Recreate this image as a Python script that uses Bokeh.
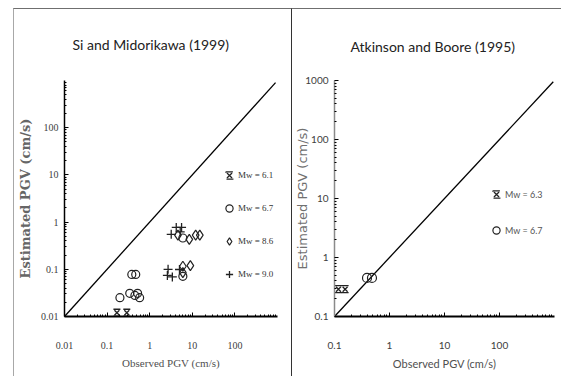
from bokeh.plotting import figure
from bokeh.layouts import row
from bokeh.models import Range1d, FixedTicker, CustomJSTickFormatter, Legend, LegendItem
from bokeh.embed import file_html
from bokeh.resources import INLINE

# ---------------- data ----------------
# Left panel: Si and Midorikawa (1999)
sm_mw61_obs = [0.17, 0.29]
sm_mw61_est = [0.012, 0.012]
sm_mw67_obs = [0.20, 0.38, 0.47, 0.34, 0.45, 0.52, 0.58, 6.0, 6.0]
sm_mw67_est = [0.025, 0.078, 0.078, 0.031, 0.028, 0.031, 0.025, 0.46, 0.071]
sm_mw86_obs = [4.6, 8.5, 12.0, 15.0, 6.0, 9.0, 6.0]
sm_mw86_est = [0.53, 0.43, 0.53, 0.53, 0.116, 0.12, 0.085]
sm_mw90_obs = [3.2, 4.2, 5.6, 5.2, 2.6, 2.7, 3.4, 5.0]
sm_mw90_est = [0.55, 0.77, 0.77, 0.62, 0.074, 0.10, 0.069, 0.099]

# Right panel: Atkinson and Boore (1995)
ab_mw63_obs = [0.118, 0.156]
ab_mw63_est = [0.29, 0.29]
ab_mw67_obs = [0.39, 0.48]
ab_mw67_est = [0.45, 0.45]

# 1:1 reference line
one_to_one = [0.01, 900]
one_to_one_r = [0.1, 950]

sm_ticks = [0.01, 0.1, 1, 10, 100]
ab_xticks = [0.1, 1, 10, 100]
ab_yticks = [0.1, 1, 10, 100, 1000]

legend_sm = ["Mw = 6.1", "Mw = 6.7", "Mw = 8.6", "Mw = 9.0"]
legend_ab = ["Mw = 6.3", "Mw = 6.7"]

title_sm = "Si and Midorikawa (1999)"
title_ab = "Atkinson and Boore (1995)"


def minor_ticks(lo_exp, hi_exp):
    out = []
    for e in range(lo_exp, hi_exp):
        for m in range(2, 10):
            out.append(m * 10.0 ** e)
    return out


fmt = CustomJSTickFormatter(code="return String(tick)")


def style_axes(p, xticks, yticks, xminor, yminor, tick_font, xlab_font, ylab_font, ylab_bold, ylab_size):
    p.xaxis.ticker = FixedTicker(ticks=xticks, minor_ticks=xminor)
    p.yaxis.ticker = FixedTicker(ticks=yticks, minor_ticks=yminor)
    for ax in (p.xaxis[0], p.yaxis[0]):
        ax.formatter = fmt
        ax.major_tick_in = 4
        ax.major_tick_out = 0
        ax.minor_tick_in = 2
        ax.minor_tick_out = 0
        ax.major_label_text_font = tick_font
        ax.major_label_text_font_size = "10px"
        ax.major_label_text_color = "#404040"
        ax.axis_line_color = "black"
        ax.major_tick_line_color = "black"
        ax.minor_tick_line_color = "black"
    p.xaxis.axis_line_width = 2
    p.yaxis.axis_line_width = 1.5
    p.xaxis.major_label_standoff = 25
    p.yaxis.major_label_standoff = 6
    p.xaxis.axis_label = "Observed PGV (cm/s)"
    p.yaxis.axis_label = "Estimated PGV (cm/s)"
    p.xaxis.axis_label_text_font = xlab_font
    p.xaxis.axis_label_text_font_size = "11px"
    p.xaxis.axis_label_text_font_style = "normal"
    p.xaxis.axis_label_text_color = "#505050"
    p.xaxis.axis_label_standoff = 5
    p.yaxis.axis_label_text_font = ylab_font
    p.yaxis.axis_label_text_font_size = ylab_size
    p.yaxis.axis_label_text_font_style = "bold" if ylab_bold else "normal"
    p.yaxis.axis_label_text_color = "#666666"
    p.xgrid.visible = False
    p.ygrid.visible = False
    p.outline_line_color = None


def style_title(p, text, standoff, offset):
    p.title.text = text
    p.title.align = "left"
    p.title.vertical_align = "top"
    p.title.text_font = "Lato"
    p.title.text_font_size = "14px"
    p.title.text_font_style = "normal"
    p.title.text_color = "#222222"
    p.title.standoff = standoff
    p.title.offset = offset


def hourglass(p, xs, ys, size):
    r1 = p.scatter(xs, ys, marker="x", size=size, line_color="#222222", line_width=1.3)
    r2 = p.scatter(xs, ys, marker="square", size=size, fill_color=None, line_color="#222222",
                   line_width=1.3, line_dash=f"{size} {size}")
    return [r1, r2]


# ---------------- left panel ----------------
p1 = figure(width=278, height=368, x_axis_type="log", y_axis_type="log",
            x_range=Range1d(0.01, 1000), y_range=Range1d(0.01, 1000),
            output_backend="svg", toolbar_location=None,
            min_border_left=45, min_border_right=15, min_border_top=71, min_border_bottom=61,
            background_fill_color="white", border_fill_color="white",
            styles={"border-top": "1px solid #6f6f6f", "border-left": "1px solid #a8a8a8",
                    "margin-left": "13px", "margin-top": "8px"})
style_title(p1, title_sm, 51, 8)

style_axes(p1, sm_ticks, sm_ticks, minor_ticks(-2, 3), minor_ticks(-2, 3),
           "Liberation Serif", "Liberation Serif", "DejaVu Serif", True, "13px")

p1.line(one_to_one, one_to_one, line_color="black", line_width=1.3)
g61 = hourglass(p1, sm_mw61_obs, sm_mw61_est, 7)
g67 = p1.scatter(sm_mw67_obs, sm_mw67_est, marker="circle", size=8, fill_color=None,
                 line_color="#222222", line_width=1.2)
g86 = p1.scatter(sm_mw86_obs, sm_mw86_est, marker="diamond", size=10, fill_color=None,
                 line_color="#222222", line_width=1.2)
g90 = p1.scatter(sm_mw90_obs, sm_mw90_est, marker="cross", size=9,
                 line_color="#222222", line_width=1.3)

leg1 = Legend(items=[LegendItem(label=legend_sm[0], renderers=g61),
                     LegendItem(label=legend_sm[1], renderers=[g67]),
                     LegendItem(label=legend_sm[2], renderers=[g86]),
                     LegendItem(label=legend_sm[3], renderers=[g90])],
              location=(156, 32), orientation="vertical",
              glyph_width=18, glyph_height=20, label_height=20, label_width=30,
              label_standoff=0, spacing=13, padding=0, margin=0,
              border_line_color=None, background_fill_alpha=0,
              label_text_font="Liberation Serif", label_text_font_size="9px",
              label_text_color="#333333")
p1.add_layout(leg1)

# ---------------- right panel ----------------
p2 = figure(width=270, height=368, x_axis_type="log", y_axis_type="log",
            x_range=Range1d(0.1, 1000), y_range=Range1d(0.1, 1000),
            output_backend="svg", toolbar_location=None,
            min_border_left=35, min_border_right=8, min_border_top=68, min_border_bottom=60,
            background_fill_color="white", border_fill_color="white",
            styles={"border-top": "1px solid #6f6f6f", "border-left": "1px solid #333333",
                    "margin-top": "8px"})
style_title(p2, title_ab, 48, 16)

style_axes(p2, ab_xticks, ab_yticks, minor_ticks(-1, 3), minor_ticks(-1, 3),
           "Lato", "Lato", "DejaVu Sans", False, "13px")
p2.yaxis.axis_line_color = "#8a8a8a"
p2.yaxis.axis_label_standoff = -8
p2.yaxis.axis_label_text_color = "#707070"

p2.line(one_to_one_r, one_to_one_r, line_color="black", line_width=1.3)
h63 = hourglass(p2, ab_mw63_obs, ab_mw63_est, 7)
h67 = p2.scatter(ab_mw67_obs, ab_mw67_est, marker="circle", size=9, fill_color=None,
                 line_color="#222222", line_width=1.2)

leg2 = Legend(items=[LegendItem(label=legend_ab[0], renderers=h63),
                     LegendItem(label=legend_ab[1], renderers=[h67])],
              location=(153, 76), orientation="vertical",
              glyph_width=18, glyph_height=20, label_height=20, label_width=30,
              label_standoff=0, spacing=16, padding=0, margin=0,
              border_line_color=None, background_fill_alpha=0,
              label_text_font="Lato", label_text_font_size="9px",
              label_text_color="#555555")
p2.add_layout(leg2)

layout = row(p1, p2)
open("out.html", "w").write(file_html(layout, INLINE))
